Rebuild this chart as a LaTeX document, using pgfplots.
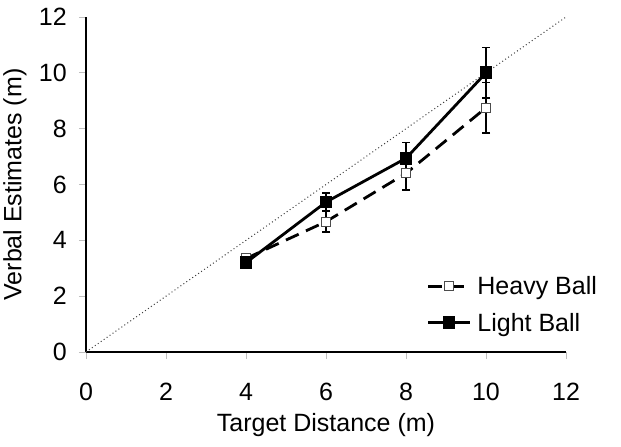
\documentclass[border=0pt]{standalone}
\usepackage{fontspec}
\setmainfont{Liberation Sans}
\usepackage{pgfplots}
\pgfplotsset{compat=1.18}
\begin{document}
\begin{tikzpicture}
\useasboundingbox (-86pt,-95pt) rectangle (535pt,352pt);
\begin{axis}[
  at={(0,0)}, anchor=south west,
  scale only axis, width=480pt, height=335pt,
  xmin=0, xmax=12, ymin=0, ymax=12,
  xtick={0,2,...,12}, ytick={0,2,...,12},
  axis lines*=left,
  axis line style={line width=2.6pt, black},
  tick align=outside, major tick length=7pt,
  tick style={gray!50, line width=0.8pt},
  /pgf/number format/assume math mode=true,
  tick label style={font=\fontsize{25}{29}\selectfont},
  xticklabel style={anchor=north, inner sep=0pt, yshift=-24pt},
  yticklabel style={anchor=east, inner sep=0pt, xshift=-12pt},
  label style={font=\fontsize{25}{29}\selectfont},
  xlabel={Target Distance (m)},
  ylabel={Verbal Estimates (m)},
  xlabel style={at={(axis description cs:0.5,-0.218)}, anchor=center},
  ylabel style={at={(axis description cs:-0.148,0.5)}, anchor=center},
  legend style={at={(0.703,0.238)}, anchor=north west, draw=none, fill=none,
    font=\fontsize{25}{29}\selectfont, row sep=13pt, column sep=4pt},
  legend cell align=left,
  legend image code/.code={\draw[mark repeat=2,mark phase=2,#1] plot coordinates {(0pt,0pt) (21pt,0pt) (42pt,0pt)};},
  clip=false,
]
\addplot[line width=1pt, dash pattern=on 1pt off 2.6pt, black!75, forget plot] coordinates {(0,0) (12,12)};
\addplot[black, line width=2.8pt, dash pattern=on 14pt off 8pt,
  mark=square*, mark size=4.5pt,
  mark options={solid, fill=white, draw=gray!60!black, line width=1pt},
  error bars/.cd, y dir=both, y explicit,
  error bar style={solid, line width=1.5pt, black},
  error mark options={rotate=90, line width=1.5pt, mark size=4pt, black}]
  coordinates {(4,3.35) +- (0,0.1) (6,4.67) +- (0,0.38) (8,6.4) +- (0,0.6) (10,8.75) +- (0,0.9)};
\addlegendentry{Heavy Ball}
\addplot[black, line width=2.8pt,
  mark=square*, mark size=5pt,
  mark options={solid, fill=black},
  error bars/.cd, y dir=both, y explicit,
  error bar style={solid, line width=1.5pt, black},
  error mark options={rotate=90, line width=1.5pt, mark size=4pt, black}]
  coordinates {(4,3.2) +- (0,0.1) (6,5.37) +- (0,0.33) (8,6.94) +- (0,0.56) (10,10.0) +- (0,0.9)};
\addlegendentry{Light Ball}
\end{axis}
\end{tikzpicture}
\end{document}
